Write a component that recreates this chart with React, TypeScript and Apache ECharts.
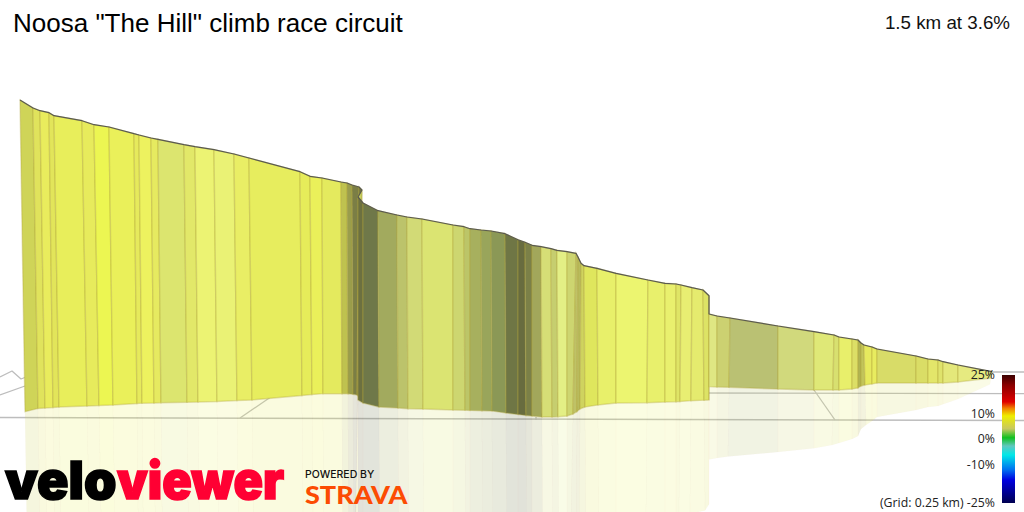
import React, { useEffect, useRef } from "react";
import * as echarts from "echarts";

const titleText = 'Noosa "The Hill" climb race circuit';
const summaryText = "1.5 km at 3.6%";
const legendTicks = ["25%", "10%", "0%", "-10%", "(Grid: 0.25 km) -25%"];

// Projected course profile (horizontal position, wall top, wall base)
const topX = [20,33,40,49,54,82,94,109,134,139,151,158,184,195,214,234,249,300,310,322,341,347,352,359,362,358,363,378,397,407,422,453,464,470,481,491,505,518,525,532,541,551,557,567,576,578,581,584,597,616,648,665,676,681,692,703,709,709,717,730,778,814,834,839,852,858,861,864,872,877,916,928,938,943,958,992];
const topY = [100,108,110.7,112.7,115.7,120.7,124.7,127,133.7,135,138,139.3,144.7,146.7,149.7,154,158,171.7,176.3,178,182,183,185,187,190,197,203,210.7,215,217,219,225,226.7,228.7,230,231,233.7,239.7,242.3,245.3,246.7,248.7,250.3,251.7,253.3,257,263.3,265.7,268.3,273.3,280,283.3,284,285,287.7,290,295.7,314,316,318,326,331.7,335,337,339,340,343,345,347,349,356,359,360,361.7,365,371.7];
const baseX = [25,38,45,53,59,87,99,113,137,142,154,161,187,198,217,237,252,302,312,323,342,348,353,357,358,358,363,379,398,408,423,453,465,470,482,492,506,518,526,532,542,552,558,567,573,577,580,585,598,616,647,665,676,680,691,704,709,709,717,729,778,814,833,839,852,858,861,865,872,877,916,928,938,943,958,991];
const baseY = [411.7,408.5,408,407.5,407,406,405.5,405,403.5,403.2,403,402.8,402.3,402,401.5,400.5,400,395.5,394.5,393.7,393.7,393.8,394.3,395,396,400,403,407,408,408.7,409,410,410.2,410.4,410.7,411,413,414.5,415.5,416,417,417,416.8,416,414,411.5,409,407,405,403,402.7,402,401.7,401.5,400.7,400.2,400,386.7,387,387.3,389,390,390,390,389,388,386,385,384,383,383,383,383,383,382,378];
const segmentColors = ["#cfd458","#e0e35c","#e9ec5d","#e2e55a","#e8ee5b","#e7eb5c","#ecf652","#eaf05a","#e6ea5c","#edf25f","#e6ea60","#dce56f","#e2e869","#ecf373","#eaf275","#e9ee65","#e7ed5e","#e6ec5a","#eaf05a","#e4ea5e","#bfc24f","#9a9d4c","#7b7e45","#6f7240","#c9d060","#6c7040","#6f7849","#a2aa5e","#bcc36b","#d2da76","#dbe472","#cdd670","#bcc568","#a7b05e","#99a55b","#8b9856","#6f7645","#686c3f","#7b8048","#a2a75b","#d6de76","#c6ce6f","#e3ef85","#cdd570","#bfc266","#b8bb5c","#cfd35f","#dfe65d","#e8f06a","#ecf570","#e8f06c","#e9f06e","#dfe566","#e8ee72","#e5eb6e","#dde365","#dde365","#dfe783","#ccd171","#bac173","#d1d97c","#dfe877","#d8e070","#e8ef6b","#dcdf66","#b0b452","#c2c45a","#e6e95e","#e8ec5f","#d8dc68","#dadd66","#e3e66a","#dfe36b","#e4e87a","#e6ea80"];

// Faint map lines behind the profile
const gridLineFar = [[975, 372], [1024, 372]];
const gridLineMid = [[690, 393], [1024, 393.7]];
const gridLineNear = [[0, 417.5], [1024, 420.5]];
const roadWest = [[0, 377], [12, 371], [21, 379], [26, 377]];
const roadWestLower = [[0, 395], [25, 386]];
const roadMid = [[240, 418], [270, 397.5]];
const roadEast = [[814, 390], [835, 420]];
const roadTick = [[536, 417], [536, 420]];
const mapLines = [gridLineFar, gridLineMid, gridLineNear, roadWest, roadWestLower, roadMid, roadEast, roadTick];

const colorStops: [number, string][] = [
  [0, "#3a0000"], [0.08, "#8b0000"], [0.21, "#e00000"], [0.26, "#f08000"], [0.32, "#eeee00"],
  [0.42, "#c8c860"], [0.49, "#10c020"], [0.555, "#60c8c0"], [0.625, "#00e8e8"], [0.74, "#0070f0"],
  [0.82, "#0000e0"], [1, "#000050"],
];

const segmentRows = segmentColors.map((_, i) => [
  topX[i], topY[i], topX[i + 1], topY[i + 1], baseX[i], baseY[i], baseX[i + 1], baseY[i + 1], i,
]);

function wall(_: any, api: any) {
  const p = (a: number, b: number) => api.coord([api.value(a), api.value(b)]);
  return {
    type: "polygon",
    shape: { points: [p(0, 1), p(2, 3), p(6, 7), p(4, 5)] },
    style: { fill: segmentColors[api.value(8)], stroke: "rgba(175,165,60,0.34)", lineWidth: 1.4 },
  };
}

function reflection(_: any, api: any) {
  const mirror = (tx: number, ty: number, bx: number, by: number) => {
    const vTop = [api.value(tx), api.value(ty)];
    const vBase = [api.value(bx), api.value(by)];
    return api.coord([2 * vBase[0] - vTop[0], 2 * vBase[1] - vTop[1]]);
  };
  const p = (a: number, b: number) => api.coord([api.value(a), api.value(b)]);
  return {
    type: "polygon",
    shape: { points: [p(4, 5), p(6, 7), mirror(2, 3, 6, 7), mirror(0, 1, 4, 5)] },
    style: { fill: segmentColors[api.value(8)], opacity: 0.2, stroke: "rgba(140,125,50,0.05)", lineWidth: 1 },
  };
}

export default function App() {
  const ref = useRef<HTMLDivElement>(null);
  useEffect(() => {
    document.body.style.margin = "0";
    const chart = echarts.init(ref.current!, undefined, { renderer: "svg" });
    const legendFont = { fontFamily: "Open Sans", fontSize: 12.3, fill: "#222", textAlign: "right", textVerticalAlign: "middle" };
    const legendY = [374, 413, 438, 464, 502];
    chart.setOption({
      animation: false,
      backgroundColor: "#fff",
      grid: { left: 0, right: 0, top: 0, bottom: 0 },
      xAxis: { type: "value", min: 0, max: 1024, show: false },
      yAxis: { type: "value", min: 0, max: 512, inverse: true, show: false },
      series: [
        ...mapLines.map((d) => ({
          type: "line", data: d, showSymbol: false, silent: true, z: 1, clip: true,
          lineStyle: { color: "#bdbdbd", width: 1.3 },
        })),
        {
          type: "custom", data: segmentRows, renderItem: reflection, silent: true, z: 2, clip: true,
          encode: { x: [0, 2, 4, 6], y: [1, 3, 5, 7] },
        },
        {
          type: "custom", data: segmentRows, renderItem: wall, silent: true, z: 3, clip: true,
          encode: { x: [0, 2, 4, 6], y: [1, 3, 5, 7] },
        },
        {
          type: "line", data: topX.map((x, i) => [x, topY[i]]), showSymbol: false, silent: true, z: 4,
          lineStyle: { color: "#5a5a50", width: 1.2 },
        },
      ],
      graphic: [
        { type: "text", z: 10, x: 13, y: 23, style: { text: titleText, fontFamily: "Liberation Sans", fontSize: 26, fill: "#000", textVerticalAlign: "middle" } },
        { type: "text", z: 10, x: 1010, y: 22, style: { text: summaryText, fontFamily: "Liberation Sans", fontSize: 18.75, fill: "#111", textAlign: "right", textVerticalAlign: "middle" } },
        {
          type: "rect", z: 10, shape: { x: 1002, y: 375, width: 13, height: 128 },
          style: { fill: new echarts.graphic.LinearGradient(0, 0, 0, 1, colorStops.map(([offset, color]) => ({ offset, color }))) },
        },
        ...legendTicks.map((t, i) => ({ type: "text", z: 10, x: 995, y: legendY[i], style: { ...legendFont, text: t } })),
        { type: "text", z: 10, x: 5, y: 480, style: { text: "velo", fontFamily: "Inter", fontWeight: 900, fontSize: 52, fill: "#000", stroke: "#000", lineWidth: 1.6, textVerticalAlign: "middle" } },
        { type: "text", z: 11, x: 117, y: 480, scaleX: 0.937, style: { text: "viewer", fontFamily: "Inter", fontWeight: 900, fontSize: 52, fill: "#ff0033", stroke: "#ff0033", lineWidth: 1.6, textVerticalAlign: "middle" } },
        { type: "text", z: 10, x: 305, y: 474, style: { text: "POWERED BY", fontFamily: "Inter", fontWeight: 500, fontSize: 10.5, fill: "#111", textVerticalAlign: "middle" } },
        { type: "text", z: 10, x: 305, y: 494, scaleX: 1.08, style: { text: "STRAVA", fontFamily: "Lato", fontWeight: 900, fontSize: 25, fill: "#fc4c02", textVerticalAlign: "middle" } },
      ],
    });
    return () => chart.dispose();
  }, []);
  return <div ref={ref} style={{ width: 1024, height: 512 }} />;
}
